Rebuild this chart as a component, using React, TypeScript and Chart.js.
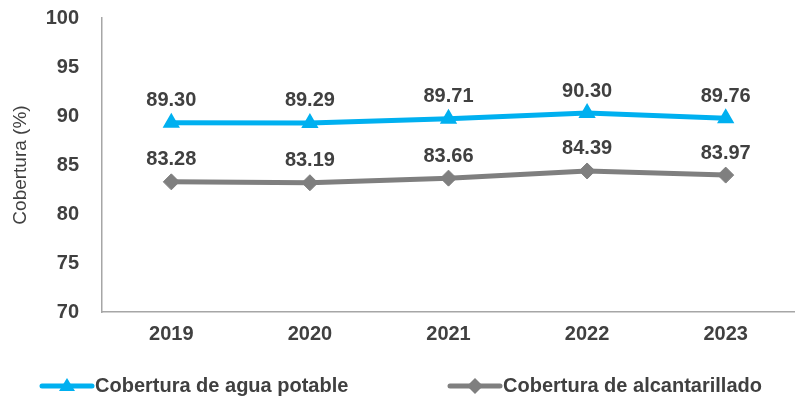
import React, { useEffect, useRef } from "react";
import { Chart, registerables } from "chart.js";

Chart.register(...registerables);

const categories = ["2019", "2020", "2021", "2022", "2023"];
const aguaPotable = [89.3, 89.29, 89.71, 90.3, 89.76];
const alcantarillado = [83.28, 83.19, 83.66, 84.39, 83.97];
const seriesNames = ["Cobertura de agua potable", "Cobertura de alcantarillado"];
const yTicks = [70, 75, 80, 85, 90, 95, 100];

const BLUE = "#00B0F0";
const GRAY = "#7F7F7F";
const TEXT = "#404040";
const FONT = "'Liberation Sans', Arial, sans-serif";

const labelPlugin = {
  id: "valueLabels",
  afterDatasetsDraw(chart: any) {
    const ctx = chart.ctx;
    ctx.save();
    ctx.font = `bold 20px ${FONT}`;
    ctx.fillStyle = TEXT;
    ctx.textAlign = "center";
    ctx.textBaseline = "middle";
    chart.data.datasets.forEach((ds: any, i: number) => {
      const meta = chart.getDatasetMeta(i);
      meta.data.forEach((pt: any, j: number) => {
        ctx.fillText(ds.data[j].toFixed(2), pt.x, pt.y - 22);
      });
    });
    ctx.restore();
  },
};

const legendPlugin = {
  id: "customLegend",
  afterDraw(chart: any) {
    const ctx = chart.ctx;
    const items = [
      { x: 42, color: BLUE, style: "triangle" },
      { x: 450, color: GRAY, style: "rectRot" },
    ];
    const y = 386;
    ctx.save();
    items.forEach((it, i) => {
      ctx.strokeStyle = it.color;
      ctx.lineWidth = 5;
      ctx.lineCap = "round";
      ctx.beginPath();
      ctx.moveTo(it.x, y);
      ctx.lineTo(it.x + 50, y);
      ctx.stroke();
      ctx.fillStyle = it.color;
      ctx.beginPath();
      const cx = it.x + 25;
      if (it.style === "triangle") {
        ctx.moveTo(cx, y - 8);
        ctx.lineTo(cx + 8, y + 5);
        ctx.lineTo(cx - 8, y + 5);
      } else {
        ctx.moveTo(cx, y - 8);
        ctx.lineTo(cx + 8, y);
        ctx.lineTo(cx, y + 8);
        ctx.lineTo(cx - 8, y);
      }
      ctx.closePath();
      ctx.fill();
      ctx.fillStyle = TEXT;
      ctx.font = `bold 20px ${FONT}`;
      ctx.textAlign = "left";
      ctx.textBaseline = "middle";
      ctx.fillText(seriesNames[i], it.x + 53, y);
    });
    ctx.restore();
  },
};

export default function App() {
  const ref = useRef<HTMLCanvasElement>(null);
  useEffect(() => {
    document.body.style.margin = "0";
    const chart = new Chart(ref.current!, {
      type: "line",
      data: {
        labels: categories,
        datasets: [
          {
            label: seriesNames[0],
            data: aguaPotable,
            borderColor: BLUE,
            backgroundColor: BLUE,
            borderWidth: 5,
            pointStyle: "triangle",
            pointRadius: 8,
            pointHoverRadius: 8,
            pointBorderWidth: 2,
            tension: 0,
          },
          {
            label: seriesNames[1],
            data: alcantarillado,
            borderColor: GRAY,
            backgroundColor: GRAY,
            borderWidth: 5,
            pointStyle: "rectRot",
            pointRadius: 8,
            pointHoverRadius: 8,
            pointBorderWidth: 1,
            tension: 0,
          },
        ],
      },
      options: {
        animation: false,
        responsive: false,
        layout: { autoPadding: false, padding: { top: 18, right: 0, left: 0, bottom: 0 } },
        plugins: { legend: { display: false }, tooltip: { enabled: false } },
        scales: {
          x: {
            offset: true,
            grid: { display: false, drawTicks: false },
            border: { display: true, color: "#A6A6A6", width: 1.5 },
            ticks: { color: TEXT, font: { family: FONT, size: 20, weight: "bold" }, padding: 10 },
            afterFit: (s: any) => {
              s.height = 88;
              s.paddingLeft = 0;
              s.paddingRight = 0;
            },
          },
          y: {
            min: 70,
            max: 100,
            afterBuildTicks: (s: any) => { s.ticks = yTicks.map((v) => ({ value: v })); },
            grid: { display: false, drawTicks: false },
            border: { display: true, color: "#A6A6A6", width: 1.5 },
            ticks: { color: TEXT, font: { family: FONT, size: 20, weight: "bold" }, padding: 23 },
            title: {
              display: true,
              text: "Cobertura (%)",
              color: TEXT,
              font: { family: FONT, size: 19 },
              padding: { top: 9, bottom: 0 },
            },
            afterFit: (s: any) => {
              s.width = 102;
              s.paddingTop = 0;
              s.paddingBottom = 0;
            },
          },
        },
      },
      plugins: [labelPlugin, legendPlugin],
    });
    return () => chart.destroy();
  }, []);
  return <canvas ref={ref} width={795} height={400} style={{ display: "block" }} />;
}
